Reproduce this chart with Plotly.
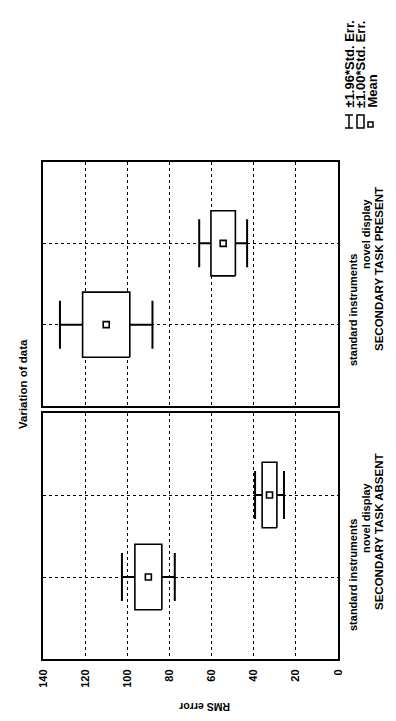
import plotly.graph_objects as go

conditions = ['standard instruments', 'novel display']
groups = ['SECONDARY TASK PRESENT', 'SECONDARY TASK ABSENT']
mean_present = [110.0, 54.5]
se_present = [11.2, 5.8]
mean_absent = [90.0, 32.5]
se_absent = [6.4, 3.5]
value_ticks = [0, 20, 40, 60, 80, 100, 120, 140]
legend_labels = ['\u00b11.96*Std. Err.', '\u00b11.00*Std. Err.', 'Mean']

# the page body has an 8px margin, so the figure sits at (8, 8) on screen
OFF = 8
W, H = 396 - OFF, 721 - 2 * OFF
L, R, T, B = 43, 338, 162, 659  # plot area, screen px


def px(x):
    return (x - L) / (R - L)


def py(y):
    return (B - y) / (B - T)


FONT = dict(family='Arial, Liberation Sans, sans-serif', color='black', weight='bold')

fig = go.Figure()

panels = [('x', 'y', mean_present, se_present), ('x2', 'y2', mean_absent, se_absent)]
for xa, ya, means, ses in panels:
    pos = [i + 1 for i in range(len(conditions))]
    # +-1.96 SE whiskers
    fig.add_trace(go.Scatter(
        x=means, y=pos, xaxis=xa, yaxis=ya, mode='markers',
        marker=dict(size=1, color='rgba(0,0,0,0)'),
        error_x=dict(type='data', array=[1.96 * s for s in ses], color='black', thickness=2, width=24),
        showlegend=False, hoverinfo='skip'))
    # +-1 SE boxes
    bx, by = [], []
    for m, s, p in zip(means, ses, pos):
        bx += [m - s, m + s, m + s, m - s, m - s, None]
        by += [p - 0.4, p - 0.4, p + 0.4, p + 0.4, p - 0.4, None]
    fig.add_trace(go.Scatter(
        x=bx, y=by, xaxis=xa, yaxis=ya, mode='lines', fill='toself',
        fillcolor='white', line=dict(color='black', width=1.6),
        showlegend=False, hoverinfo='skip'))
    # means
    fig.add_trace(go.Scatter(
        x=means, y=pos, xaxis=xa, yaxis=ya, mode='markers',
        marker=dict(symbol='square', size=6, color='white', line=dict(color='black', width=1.6)),
        showlegend=False))

xcommon = dict(range=[140, 0], tickvals=value_ticks, showgrid=True, gridcolor='black',
               griddash='dot', gridwidth=1, showline=True, mirror=True, linecolor='black',
               linewidth=2, zeroline=False, ticks='')
ycommon = dict(range=[0, 3], tickvals=[1, 2], showgrid=True, gridcolor='black',
               griddash='dot', gridwidth=1, showline=True, mirror=True, linecolor='black',
               linewidth=2, zeroline=False, ticks='', showticklabels=False)

fig.update_layout(
    width=W, height=H,
    margin=dict(l=L - OFF, r=W - (R - OFF), t=T - OFF, b=H - (B - OFF)),
    paper_bgcolor='white', plot_bgcolor='white',
    showlegend=False,
    xaxis=dict(xcommon, anchor='y', showticklabels=False),
    yaxis=dict(ycommon, domain=[py(406), 1], anchor='x'),
    xaxis2=dict(xcommon, anchor='y2', matches='x', tickangle=-90,
                tickfont=dict(FONT, size=11), ticklabelstandoff=4),
    yaxis2=dict(ycommon, domain=[0, py(413)], anchor='x2'),
)

ann = []


def txt(text, x, y, size=11, angle=-90, xanchor='center', yanchor='middle'):
    ann.append(dict(text=text, x=px(x), y=py(y), xref='paper', yref='paper',
                    xanchor=xanchor, yanchor=yanchor, showarrow=False,
                    textangle=angle, font=dict(FONT, size=size)))


txt('Variation of data', 23, 384, size=11.5)
txt('RMS error', 205, 707, size=10.5, angle=180)

# category labels (three staggered lines per panel)
txt(conditions[0], 353, 310)
txt(conditions[1], 366, 234)
txt(groups[0], 379, 269, size=11.5)
txt(conditions[0], 353, 575)
txt(conditions[1], 366, 518)
txt(groups[1], 379, 532, size=11.5)

# legend
for i, lab in enumerate(legend_labels):
    txt(lab, 349 + 11.5 * i, 110, size=13, yanchor='bottom')

fig.update_layout(annotations=ann)

shp = []


def seg(x0, y0, x1, y1, w=1.5):
    shp.append(dict(type='line', xref='paper', yref='paper', x0=px(x0), y0=py(y0),
                    x1=px(x1), y1=py(y1), line=dict(color='black', width=w)))


seg(349, 115, 349, 128)
seg(345, 115, 353, 115)
seg(345, 128, 353, 128)
shp.append(dict(type='rect', xref='paper', yref='paper', x0=px(357), x1=px(364),
                y0=py(128), y1=py(115), line=dict(color='black', width=1.5)))
shp.append(dict(type='rect', xref='paper', yref='paper', x0=px(368), x1=px(373),
                y0=py(127), y1=py(122), line=dict(color='black', width=1.5)))
fig.update_layout(shapes=shp)

fig.write_html("out.html")
